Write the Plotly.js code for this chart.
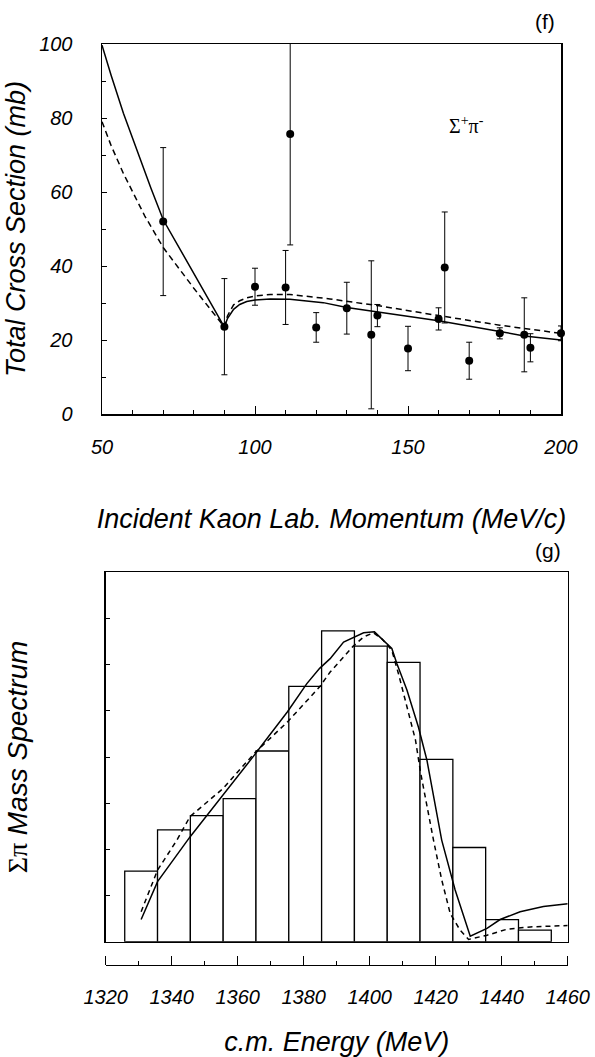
<!DOCTYPE html>
<html>
<head>
<meta charset="utf-8">
<script src="https://cdn.plot.ly/plotly-3.0.1.min.js"></script>
<style>html,body{margin:0;padding:0;background:#fff;}</style>
</head>
<body>
<div id="chart" style="width:595px;height:1057px;"></div>
<script>
// ---- Panel (f): total cross section data ----
const momentum = [70, 90, 100, 110, 111.5, 120, 130, 138, 140, 150, 160, 162, 170, 180, 188, 190, 200];
const sigma    = [52, 23.6, 34.4, 34.2, 75.7, 23.4, 28.6, 21.4, 26.6, 17.7, 25.7, 39.6, 14.4, 21.8, 21.4, 17.9, 21.8];
const sigmaErr = [20, 13, 5, 10, 30, 4, 7, 20, 3, 6, 3, 15, 5, 1.5, 10, 3.8, 2];

// model curves (solid / dashed)
const solidP = [50, 53, 57, 62.4, 66, 70, 75, 80, 90, 91, 93, 95, 97.3, 100, 105, 111.4, 122.3, 130, 140, 160, 180, 188, 200];
const solidS = [99.7, 91.5, 81.3, 68.8, 61, 52.5, 45.2, 38, 23.5, 25.8, 28.3, 29.6, 30.4, 30.8, 31.1, 31.0, 30.1, 28.8, 27.6, 25.2, 22.3, 21.1, 20];
const dashP  = [50, 53, 57, 64, 70, 80, 90, 91, 93, 95, 97.3, 100, 105, 111.4, 124.5, 130, 140, 160, 180, 200];
const dashS  = [79, 72.5, 65, 53.5, 45, 34, 23.5, 26.5, 29.5, 30.6, 31.4, 31.9, 32.3, 32.3, 31.1, 30.5, 29.3, 26.6, 24, 21.8];

// ---- Panel (g): Sigma-pi mass spectrum ----
const histE = [1330, 1340, 1350, 1360, 1370, 1380, 1390, 1400, 1410, 1420, 1430, 1440, 1450];
const histN = [1.53, 2.42, 2.73, 3.10, 4.13, 5.53, 6.73, 6.40, 6.05, 3.95, 2.04, 0.48, 0.25];

const fitE = [1330, 1335, 1345, 1355, 1364.5, 1374.6, 1380.5, 1384.4, 1387.6, 1391.7, 1397.8, 1401.1, 1403.8, 1406.4, 1407.9, 1411, 1414.5, 1417.1, 1421.6, 1425.7, 1430.3, 1435.4, 1439.4, 1445.5, 1452.6, 1460];
const fitN = [0.48, 1.30, 2.28, 3.18, 4.04, 4.98, 5.59, 5.92, 6.13, 6.49, 6.69, 6.71, 6.53, 6.35, 6.03, 5.45, 4.65, 3.93, 2.20, 1.12, 0.12, 0.29, 0.48, 0.65, 0.76, 0.82];
const fit2E = [1330, 1335, 1340.9, 1344.9, 1355, 1364.5, 1374.6, 1384.4, 1387.6, 1394.5, 1397.8, 1400.8, 1403.5, 1406.4, 1408.4, 1411, 1413.6, 1415.2, 1417.1, 1419.1, 1421.6, 1424.2, 1427.2, 1429.8, 1435.4, 1441.5, 1448.6, 1460];
const fit2N = [0.65, 1.55, 2.2, 2.71, 3.32, 4.08, 4.76, 5.52, 5.84, 6.39, 6.60, 6.69, 6.55, 6.31, 5.81, 5.09, 4.37, 3.65, 2.92, 2.2, 1.34, 0.61, 0.25, 0.05, 0.14, 0.27, 0.32, 0.35];

const W = 595, H = 1057;
const px = v => v / W;
const py = v => 1 - v / H;

const SANS = 'Liberation Sans';
const SERIF = 'Liberation Serif';

const traces = [
  {x: solidP, y: solidS, mode: 'lines', line: {color: 'black', width: 1.5}, xaxis: 'x', yaxis: 'y', hoverinfo: 'skip'},
  {x: dashP, y: dashS, mode: 'lines', line: {color: 'black', width: 1.5, dash: '6px,4px'}, xaxis: 'x', yaxis: 'y', hoverinfo: 'skip'},
  {x: momentum, y: sigma, mode: 'markers', marker: {color: 'black', size: 8},
   error_y: {type: 'data', array: sigmaErr, visible: true, color: 'black', thickness: 1, width: 3},
   xaxis: 'x', yaxis: 'y', cliponaxis: false},
  {x: histE, y: histN, type: 'bar', marker: {color: 'white', line: {color: 'black', width: 1.3}},
   xaxis: 'x2', yaxis: 'y2', hoverinfo: 'skip'},
  {x: fitE, y: fitN, mode: 'lines', line: {color: 'black', width: 1.5}, xaxis: 'x2', yaxis: 'y2', hoverinfo: 'skip'},
  {x: fit2E, y: fit2N, mode: 'lines', line: {color: 'black', width: 1.5, dash: '5px,4px'}, xaxis: 'x2', yaxis: 'y2', hoverinfo: 'skip'},
  // carriers for the detached energy scale below panel (g)
  {x: histE, y: histN, mode: 'none', xaxis: 'x3', yaxis: 'y2', hoverinfo: 'skip'},
  {x: histE, y: histN, mode: 'none', xaxis: 'x4', yaxis: 'y2', hoverinfo: 'skip'}
];

const tickItalic = {family: SANS, size: 20, color: 'black', style: 'italic'};
const titleItalic = {family: SANS, size: 27, color: 'black', style: 'italic'};

const layout = {
  width: W, height: H,
  margin: {l: 0, r: 0, t: 0, b: 0},
  paper_bgcolor: 'white', plot_bgcolor: 'rgba(0,0,0,0)',
  showlegend: false,
  bargap: 0,
  font: {family: SANS, color: 'black'},
  xaxis: {
    domain: [px(102), px(561)], range: [50, 200], anchor: 'y',
    showline: true, mirror: true, linecolor: 'black', linewidth: 1.5,
    ticks: 'inside', ticklen: 8, tickwidth: 1, tickcolor: 'black', tick0: 50, dtick: 50,
    minor: {dtick: 10, ticklen: 4, ticks: 'inside', tickcolor: 'black', tickwidth: 1},
    showgrid: false, zeroline: false,
    tickfont: tickItalic, ticklabelstandoff: 14,
    title: {text: 'Incident Kaon Lab. Momentum (MeV/c)', font: titleItalic, standoff: 52}
  },
  yaxis: {
    domain: [py(414), py(44)], range: [0, 100], anchor: 'x',
    showline: true, mirror: true, linecolor: 'black', linewidth: 1.5,
    ticks: 'inside', ticklen: 5, tickwidth: 1, tickcolor: 'black', tick0: 0, dtick: 20,
    minor: {dtick: 10, ticklen: 4, ticks: 'inside', tickcolor: 'black', tickwidth: 1},
    showgrid: false, zeroline: false,
    tickfont: tickItalic, ticklabelstandoff: 24,
    title: {text: 'Total Cross Section (mb)', font: titleItalic, standoff: 5}
  },
  xaxis2: {
    domain: [px(105.7), px(567.7)], range: [1319.2, 1460], anchor: 'y2',
    showline: true, mirror: true, linecolor: 'black', linewidth: 1.5,
    ticks: '', showticklabels: false, showgrid: false, zeroline: false
  },
  yaxis2: {
    domain: [py(941.7), py(572.3)], range: [0, 8], anchor: 'x2',
    showline: true, mirror: true, linecolor: 'black', linewidth: 1.5,
    ticks: 'inside', ticklen: 4, tickwidth: 1, tickcolor: 'black', tick0: 0, dtick: 1,
    showticklabels: false, showgrid: false, zeroline: false,
    title: {text: '<span style="font-family:Liberation Serif;font-style:normal">Σπ</span> Mass Spectrum', font: {family: SANS, size: 28, color: 'black', style: 'italic'}, standoff: 68}
  },
  // detached scale line with upward ticks
  xaxis3: {
    domain: [px(108.3), px(567.7)], range: [1320, 1460], anchor: 'free', overlaying: 'x2',
    position: py(965), side: 'top',
    showline: true, linecolor: 'black', linewidth: 1,
    ticks: 'outside', ticklen: 9, tickwidth: 1, tickcolor: 'black', tick0: 1320, dtick: 20,
    minor: {dtick: 10, ticklen: 4, ticks: 'outside', tickcolor: 'black', tickwidth: 1},
    showticklabels: false, showgrid: false, zeroline: false
  },
  // labels + title of the detached scale
  xaxis4: {
    domain: [px(108.3), px(567.7)], range: [1320, 1460], anchor: 'free', overlaying: 'x2',
    position: py(965), side: 'bottom',
    showline: false, ticks: '', tick0: 1320, dtick: 20,
    showgrid: false, zeroline: false,
    tickfont: tickItalic, ticklabelstandoff: 18,
    title: {text: 'c.m. Energy (MeV)', font: titleItalic, standoff: 25}
  },
  annotations: [
    {xref: 'paper', yref: 'paper', x: px(545), y: py(22), text: '(f)', showarrow: false,
     font: {family: SANS, size: 21, color: 'black'}, xanchor: 'center', yanchor: 'middle'},
    {xref: 'paper', yref: 'paper', x: px(548), y: py(550), text: '(g)', showarrow: false,
     font: {family: SANS, size: 21, color: 'black'}, xanchor: 'center', yanchor: 'middle'},
    {xref: 'x', yref: 'y', x: 169, y: 78, text: 'Σ<sup>+</sup>π<sup>-</sup>', showarrow: false,
     font: {family: SERIF, size: 20, color: 'black'}, xanchor: 'center', yanchor: 'middle'}
  ]
};

Plotly.newPlot('chart', traces, layout, {staticPlot: true, displayModeBar: false});
</script>
</body>
</html>
